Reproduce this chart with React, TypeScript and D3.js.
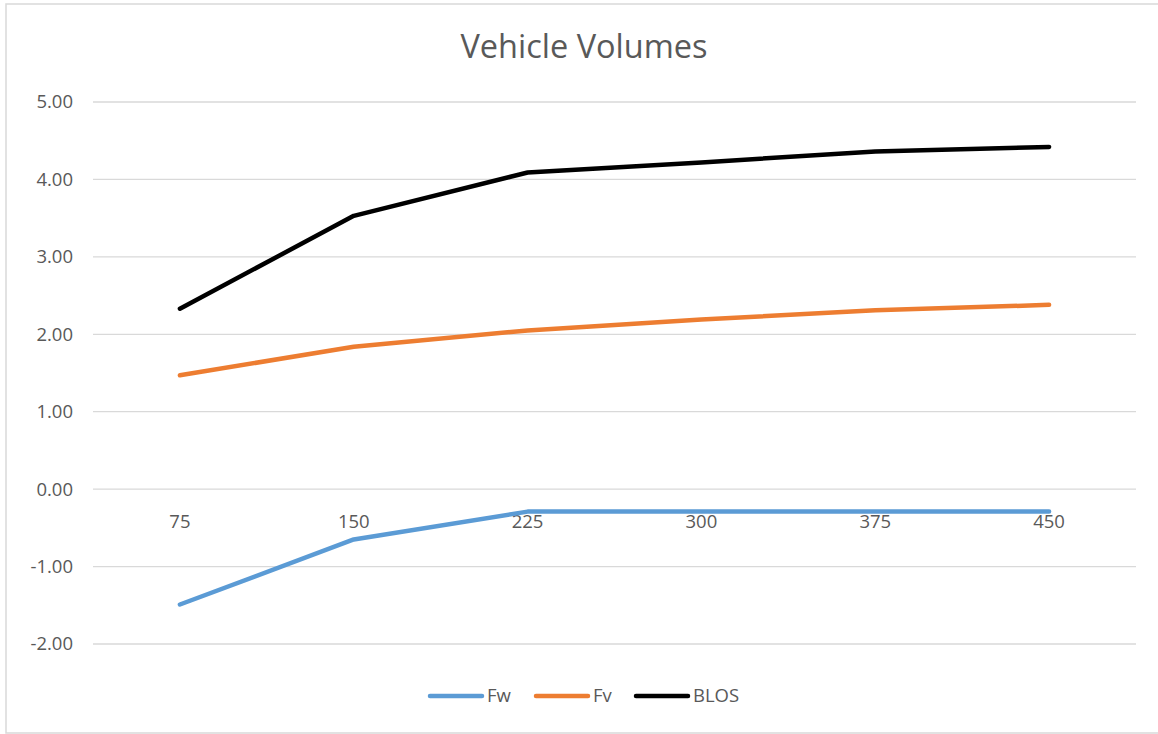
import React from "react";
import * as d3 from "d3";

const categories = ["75", "150", "225", "300", "375", "450"];
const fwValues = [-1.49, -0.65, -0.29, -0.29, -0.29, -0.29];
const fvValues = [1.47, 1.84, 2.05, 2.19, 2.31, 2.38];
const blosValues = [2.33, 3.53, 4.09, 4.22, 4.36, 4.42];
const yTicks = [5, 4, 3, 2, 1, 0, -1, -2];
const seriesNames = ["Fw", "Fv", "BLOS"];
const seriesColors = ["#5b9bd5", "#ed7d31", "#000000"];

const W = 1158;
const H = 734;
const FONT = "'Open Sans', 'Noto Sans', sans-serif";

export default function App() {
  const x = d3.scaleBand().domain(categories).range([93, 1136]);
  const y = d3.scaleLinear().domain([-2, 5]).range([644, 102]);
  const line = d3
    .line<number>()
    .x((_, i) => (x(categories[i]) as number) + x.bandwidth() / 2)
    .y((d) => y(d));
  const allSeries = [fwValues, fvValues, blosValues];
  const legendX = [430, 536, 636];

  return (
    <svg
      width={W}
      height={H}
      style={{ position: "absolute", left: 0, top: 0, background: "#fff" }}
    >
      <rect x={6} y={4} width={W + 10} height={729} fill="#fff" stroke="#d9d9d9" strokeWidth={1.5} />
      <text x={584} y={47} dy="0.35em" textAnchor="middle" fontFamily={FONT} fontSize={32.5} fill="#595959">
        Vehicle Volumes
      </text>
      {yTicks.map((t) => (
        <g key={t}>
          <line x1={93} x2={1136} y1={y(t)} y2={y(t)} stroke="#d9d9d9" strokeWidth={1.3} />
          <text
            x={73}
            y={y(t)}
            dy="0.35em"
            textAnchor="end"
            fontFamily={FONT}
            fontSize={18.5}
            fill="#595959"
          >
            {t.toFixed(2)}
          </text>
        </g>
      ))}
      {categories.map((c) => (
        <text
          key={c}
          x={(x(c) as number) + x.bandwidth() / 2}
          y={y(0) + 32}
          dy="0.35em"
          textAnchor="middle"
          fontFamily={FONT}
          fontSize={18.5}
          fill="#595959"
        >
          {c}
        </text>
      ))}
      {allSeries.map((s, i) => (
        <path
          key={seriesNames[i]}
          d={line(s) as string}
          fill="none"
          stroke={seriesColors[i]}
          strokeWidth={4.5}
          strokeLinejoin="round"
          strokeLinecap="round"
        />
      ))}
      {seriesNames.map((n, i) => (
        <g key={n}>
          <line
            x1={legendX[i]}
            x2={legendX[i] + 52}
            y1={696}
            y2={696}
            stroke={seriesColors[i]}
            strokeWidth={4.5}
            strokeLinecap="round"
          />
          <text
            x={legendX[i] + 57}
            y={696}
            dy="0.35em"
            fontFamily={FONT}
            fontSize={18.5}
            fill="#595959"
          >
            {n}
          </text>
        </g>
      ))}
    </svg>
  );
}
